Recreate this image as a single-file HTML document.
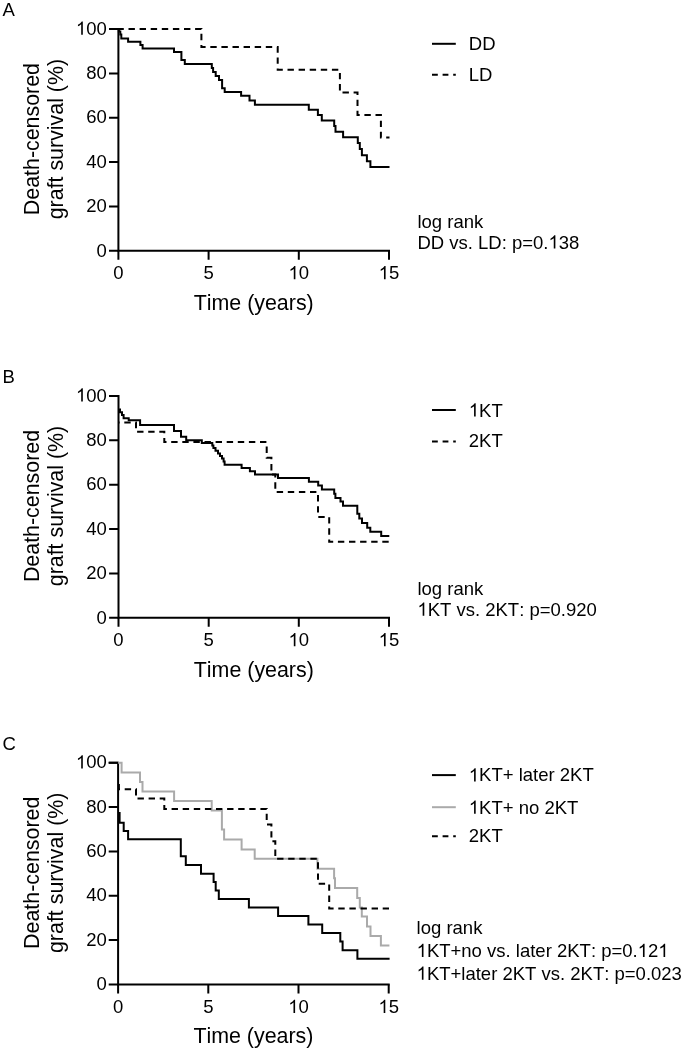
<!DOCTYPE html>
<html><head><meta charset="utf-8"><title>Kaplan-Meier</title>
<style>
html,body{margin:0;padding:0;background:#fff;}
text{font-kerning:none;font-feature-settings:"kern" 0;}
body{width:685px;height:1051px;overflow:hidden;}
svg{display:block;will-change:transform;}
.t{font-family:"Liberation Sans", sans-serif;font-size:18.5px;fill:#000;}
.ti{font-family:"Liberation Sans", sans-serif;font-size:21.4px;fill:#000;}
.s{fill:none;stroke:#000;stroke-width:2;stroke-linejoin:miter;}
.g{fill:none;stroke:#aaa;stroke-width:2;stroke-linejoin:miter;}
.d{fill:none;stroke:#000;stroke-width:2;stroke-dasharray:6.4 4.7;stroke-dashoffset:1;stroke-linejoin:miter;}
.ld{fill:none;stroke:#000;stroke-width:2;stroke-dasharray:5.8 4.8;}
</style></head>
<body>
<svg width="685" height="1051" viewBox="0 0 685 1051">
<path d="M109.0,29.0H118.4V250.8H390.0" fill="none" stroke="#000" stroke-width="2" stroke-linejoin="miter"/>
<text x="96.51" y="256.50" class="t">0</text>
<text x="86.22" y="212.14" class="t">20</text>
<text x="86.22" y="167.78" class="t">40</text>
<text x="86.22" y="123.42" class="t">60</text>
<text x="86.22" y="79.06" class="t">80</text>
<text x="75.93" y="34.70" class="t"> 00</text>
<path d="M763 0H583V1147Q518 1085 412.5 1023T223 930V1104Q373 1175 485.5 1276T645 1466H763V0Z" transform="matrix(0.00903 0 0 -0.00903 75.93 34.70)"/>
<text x="113.26" y="279.30" class="t">0</text>
<text x="203.46" y="279.30" class="t">5</text>
<text x="288.51" y="279.30" class="t"> 0</text>
<path d="M763 0H583V1147Q518 1085 412.5 1023T223 930V1104Q373 1175 485.5 1276T645 1466H763V0Z" transform="matrix(0.00903 0 0 -0.00903 288.51 279.30)"/>
<text x="378.71" y="279.30" class="t"> 5</text>
<path d="M763 0H583V1147Q518 1085 412.5 1023T223 930V1104Q373 1175 485.5 1276T645 1466H763V0Z" transform="matrix(0.00903 0 0 -0.00903 378.71 279.30)"/>
<path d="M109.0,250.8H118.4 M109.0,206.4H118.4 M109.0,162.1H118.4 M109.0,117.7H118.4 M109.0,73.4H118.4 M109.0,29.0H118.4 M118.4,250.8V259.8 M208.6,250.8V259.8 M298.8,250.8V259.8 M389.0,250.8V259.8" stroke="#000" stroke-width="2" fill="none"/>
<text x="253.7" y="309.8" text-anchor="middle" class="ti">Time (years)</text>
<text transform="translate(38.8,139.1) rotate(-90)" text-anchor="middle" class="ti">Death-censored</text>
<text transform="translate(63.2,139.1) rotate(-90)" text-anchor="middle" class="ti">graft survival (%)</text>
<text x="2.6" y="15.9" class="t">A</text>
<path d="M109.1,395.9H118.5V617.8H390.0" fill="none" stroke="#000" stroke-width="2" stroke-linejoin="miter"/>
<text x="96.51" y="623.50" class="t">0</text>
<text x="86.22" y="579.12" class="t">20</text>
<text x="86.22" y="534.74" class="t">40</text>
<text x="86.22" y="490.36" class="t">60</text>
<text x="86.22" y="445.98" class="t">80</text>
<text x="75.93" y="401.60" class="t"> 00</text>
<path d="M763 0H583V1147Q518 1085 412.5 1023T223 930V1104Q373 1175 485.5 1276T645 1466H763V0Z" transform="matrix(0.00903 0 0 -0.00903 75.93 401.60)"/>
<text x="113.36" y="646.30" class="t">0</text>
<text x="203.52" y="646.30" class="t">5</text>
<text x="288.54" y="646.30" class="t"> 0</text>
<path d="M763 0H583V1147Q518 1085 412.5 1023T223 930V1104Q373 1175 485.5 1276T645 1466H763V0Z" transform="matrix(0.00903 0 0 -0.00903 288.54 646.30)"/>
<text x="378.71" y="646.30" class="t"> 5</text>
<path d="M763 0H583V1147Q518 1085 412.5 1023T223 930V1104Q373 1175 485.5 1276T645 1466H763V0Z" transform="matrix(0.00903 0 0 -0.00903 378.71 646.30)"/>
<path d="M109.1,617.8H118.5 M109.1,573.4H118.5 M109.1,529.0H118.5 M109.1,484.7H118.5 M109.1,440.3H118.5 M109.1,395.9H118.5 M118.5,617.8V626.8 M208.7,617.8V626.8 M298.8,617.8V626.8 M389.0,617.8V626.8" stroke="#000" stroke-width="2" fill="none"/>
<text x="253.8" y="676.8" text-anchor="middle" class="ti">Time (years)</text>
<text transform="translate(38.8,506.0) rotate(-90)" text-anchor="middle" class="ti">Death-censored</text>
<text transform="translate(63.2,506.0) rotate(-90)" text-anchor="middle" class="ti">graft survival (%)</text>
<text x="2.6" y="382.9" class="t">B</text>
<path d="M108.7,762.7H118.1V984.4H389.7" fill="none" stroke="#000" stroke-width="2" stroke-linejoin="miter"/>
<text x="96.51" y="990.10" class="t">0</text>
<text x="86.22" y="945.76" class="t">20</text>
<text x="86.22" y="901.42" class="t">40</text>
<text x="86.22" y="857.08" class="t">60</text>
<text x="86.22" y="812.74" class="t">80</text>
<text x="75.93" y="768.40" class="t"> 00</text>
<path d="M763 0H583V1147Q518 1085 412.5 1023T223 930V1104Q373 1175 485.5 1276T645 1466H763V0Z" transform="matrix(0.00903 0 0 -0.00903 75.93 768.40)"/>
<text x="112.96" y="1012.90" class="t">0</text>
<text x="203.16" y="1012.90" class="t">5</text>
<text x="288.21" y="1012.90" class="t"> 0</text>
<path d="M763 0H583V1147Q518 1085 412.5 1023T223 930V1104Q373 1175 485.5 1276T645 1466H763V0Z" transform="matrix(0.00903 0 0 -0.00903 288.21 1012.90)"/>
<text x="378.41" y="1012.90" class="t"> 5</text>
<path d="M763 0H583V1147Q518 1085 412.5 1023T223 930V1104Q373 1175 485.5 1276T645 1466H763V0Z" transform="matrix(0.00903 0 0 -0.00903 378.41 1012.90)"/>
<path d="M108.7,984.4H118.1 M108.7,940.1H118.1 M108.7,895.7H118.1 M108.7,851.4H118.1 M108.7,807.0H118.1 M108.7,762.7H118.1 M118.1,984.4V993.4 M208.3,984.4V993.4 M298.5,984.4V993.4 M388.7,984.4V993.4" stroke="#000" stroke-width="2" fill="none"/>
<text x="253.4" y="1043.4" text-anchor="middle" class="ti">Time (years)</text>
<text transform="translate(38.8,872.8) rotate(-90)" text-anchor="middle" class="ti">Death-censored</text>
<text transform="translate(63.2,872.8) rotate(-90)" text-anchor="middle" class="ti">graft survival (%)</text>
<text x="2.6" y="749.9" class="t">C</text>
<polyline points="118.4,29.0 201.4,29.0 201.4,47.1 277.7,47.1 277.7,69.8 339.9,69.8 339.9,92.5 357.5,92.5 357.5,115.0 380.9,115.0 380.9,137.6 389.5,137.6" class="d"/>
<polyline points="118.9,29.0 118.9,31.6 120.3,31.6 120.3,34.6 121.3,34.6 121.3,38.6 128.1,38.6 128.1,41.8 140.4,41.8 140.4,45.1 142.6,45.1 142.6,48.5 174.0,48.5 174.0,52.0 181.4,52.0 181.4,60.0 184.8,60.0 184.8,64.0 211.8,64.0 211.8,68.1 213.1,68.1 213.1,72.1 215.7,72.1 215.7,76.0 219.0,76.0 219.0,80.0 222.1,80.0 222.1,88.3 224.7,88.3 224.7,92.0 241.1,92.0 241.1,95.7 249.5,95.7 249.5,100.5 254.9,100.5 254.9,104.8 308.8,104.8 308.8,109.7 317.9,109.7 317.9,115.0 321.8,115.0 321.8,120.4 334.2,120.4 334.2,125.9 335.5,125.9 335.5,131.8 343.1,131.8 343.1,137.2 357.8,137.2 357.8,143.1 359.8,143.1 359.8,149.1 361.9,149.1 361.9,155.2 366.9,155.2 366.9,161.2 370.4,161.2 370.4,166.9 389.5,166.9" class="s"/>
<polyline points="118.5,422.4 136.0,422.4 136.0,431.8 164.3,431.8 164.3,442.1 266.7,442.1 266.7,457.7 271.4,457.7 271.4,474.5 275.3,474.5 275.3,492.0 318.0,492.0 318.0,517.0 329.2,517.0 329.2,541.8 389.0,541.8" class="d" style="stroke-dashoffset:27.5"/>
<polyline points="118.5,409.5 120.0,409.5 120.0,412.3 122.0,412.3 122.0,415.0 123.6,415.0 123.6,418.2 128.7,418.2 128.7,420.2 140.1,420.2 140.1,425.0 174.0,425.0 174.0,431.0 181.0,431.0 181.0,436.7 186.2,436.7 186.2,440.3 201.8,440.3 201.8,443.0 212.3,443.0 212.3,445.5 213.4,445.5 213.4,448.0 215.5,448.0 215.5,450.8 218.0,450.8 218.0,453.5 220.0,453.5 220.0,456.0 222.0,456.0 222.0,458.5 223.6,458.5 223.6,461.5 224.6,461.5 224.6,464.7 241.6,464.7 241.6,468.0 249.9,468.0 249.9,471.3 255.0,471.3 255.0,474.5 278.0,474.5 278.0,478.0 308.9,478.0 308.9,481.7 318.2,481.7 318.2,485.4 321.9,485.4 321.9,489.6 334.2,489.6 334.2,493.8 335.4,493.8 335.4,498.0 340.5,498.0 340.5,501.5 343.0,501.5 343.0,505.8 357.3,505.8 357.3,513.7 359.3,513.7 359.3,518.5 362.0,518.5 362.0,522.9 367.2,522.9 367.2,527.7 370.3,527.7 370.3,531.7 381.2,531.7 381.2,535.9 389.3,535.9" class="s"/>
<polyline points="118.1,762.7 121.6,762.7 121.6,772.4 140.0,772.4 140.0,781.9 142.5,781.9 142.5,791.6 174.1,791.6 174.1,801.0 211.7,801.0 211.7,810.4 221.9,810.4 221.9,829.4 224.1,829.4 224.1,839.6 241.6,839.6 241.6,849.6 254.7,849.6 254.7,858.7 317.4,858.7 317.4,868.8 334.1,868.8 334.1,878.2 335.0,878.2 335.0,887.9 357.2,887.9 357.2,898.0 359.8,898.0 359.8,907.5 361.8,907.5 361.8,916.4 367.0,916.4 367.0,926.5 370.5,926.5 370.5,936.0 380.9,936.0 380.9,945.6 389.4,945.6" class="g"/>
<polyline points="118.9,783.6 118.9,789.2 136.0,789.2 136.0,798.6 164.3,798.6 164.3,808.9 266.7,808.9 266.7,824.5 271.4,824.5 271.4,841.3 275.3,841.3 275.3,858.8 318.0,858.8 318.0,883.8 329.2,883.8 329.2,908.6 389.0,908.6" class="d" style="stroke-dashoffset:21.9"/>
<polyline points="118.1,813.0 119.6,813.0 119.6,822.8 123.7,822.8 123.7,830.9 128.1,830.9 128.1,839.3 180.8,839.3 180.8,856.3 185.8,856.3 185.8,865.0 201.0,865.0 201.0,873.7 213.6,873.7 213.6,882.0 215.7,882.0 215.7,890.6 218.8,890.6 218.8,899.1 248.9,899.1 248.9,907.5 278.1,907.5 278.1,916.1 308.4,916.1 308.4,924.5 322.2,924.5 322.2,933.0 340.3,933.0 340.3,941.4 342.6,941.4 342.6,950.3 357.4,950.3 357.4,958.7 389.6,958.7" class="s"/>
<line x1="432" y1="43.8" x2="455.8" y2="43.8" class="s"/>
<text x="468.80" y="49.60" class="t">DD</text>
<line x1="432" y1="74.8" x2="455.8" y2="74.8" class="ld"/>
<text x="468.80" y="80.90" class="t">LD</text>
<line x1="432" y1="410.0" x2="455.8" y2="410.0" class="s"/>
<text x="468.80" y="416.60" class="t"> KT</text>
<path d="M763 0H583V1147Q518 1085 412.5 1023T223 930V1104Q373 1175 485.5 1276T645 1466H763V0Z" transform="matrix(0.00903 0 0 -0.00903 468.80 416.60)"/>
<line x1="432" y1="441.4" x2="455.8" y2="441.4" class="ld"/>
<text x="468.80" y="447.30" class="t">2KT</text>
<line x1="432" y1="775.1" x2="455.8" y2="775.1" class="s"/>
<text x="468.80" y="781.40" class="t"> KT+ later 2KT</text>
<path d="M763 0H583V1147Q518 1085 412.5 1023T223 930V1104Q373 1175 485.5 1276T645 1466H763V0Z" transform="matrix(0.00903 0 0 -0.00903 468.80 781.40)"/>
<line x1="432" y1="807.2" x2="455.8" y2="807.2" class="g"/>
<text x="468.80" y="813.70" class="t"> KT+ no 2KT</text>
<path d="M763 0H583V1147Q518 1085 412.5 1023T223 930V1104Q373 1175 485.5 1276T645 1466H763V0Z" transform="matrix(0.00903 0 0 -0.00903 468.80 813.70)"/>
<line x1="432" y1="836.2" x2="455.8" y2="836.2" class="ld"/>
<text x="468.80" y="842.40" class="t">2KT</text>
<text x="417.40" y="227.80" class="t">log rank</text>
<text x="417.40" y="248.60" class="t">DD vs. LD: p=0. 38</text>
<path d="M763 0H583V1147Q518 1085 412.5 1023T223 930V1104Q373 1175 485.5 1276T645 1466H763V0Z" transform="matrix(0.00903 0 0 -0.00903 548.49 248.60)"/>
<text x="417.40" y="594.70" class="t">log rank</text>
<text x="417.40" y="615.70" class="t"> KT vs. 2KT: p=0.920</text>
<path d="M763 0H583V1147Q518 1085 412.5 1023T223 930V1104Q373 1175 485.5 1276T645 1466H763V0Z" transform="matrix(0.00903 0 0 -0.00903 417.40 615.70)"/>
<text x="416.60" y="934.20" class="t">log rank</text>
<text x="416.60" y="957.00" class="t"> KT+no vs. later 2KT: p=0. 2 </text>
<path d="M763 0H583V1147Q518 1085 412.5 1023T223 930V1104Q373 1175 485.5 1276T645 1466H763V0Z" transform="matrix(0.00903 0 0 -0.00903 416.60 957.00)"/>
<path d="M763 0H583V1147Q518 1085 412.5 1023T223 930V1104Q373 1175 485.5 1276T645 1466H763V0Z" transform="matrix(0.00903 0 0 -0.00903 637.69 957.00)"/>
<path d="M763 0H583V1147Q518 1085 412.5 1023T223 930V1104Q373 1175 485.5 1276T645 1466H763V0Z" transform="matrix(0.00903 0 0 -0.00903 658.27 957.00)"/>
<text x="416.60" y="979.80" class="t"> KT+later 2KT vs. 2KT: p=0.023</text>
<path d="M763 0H583V1147Q518 1085 412.5 1023T223 930V1104Q373 1175 485.5 1276T645 1466H763V0Z" transform="matrix(0.00903 0 0 -0.00903 416.60 979.80)"/>
</svg>
</body></html>
